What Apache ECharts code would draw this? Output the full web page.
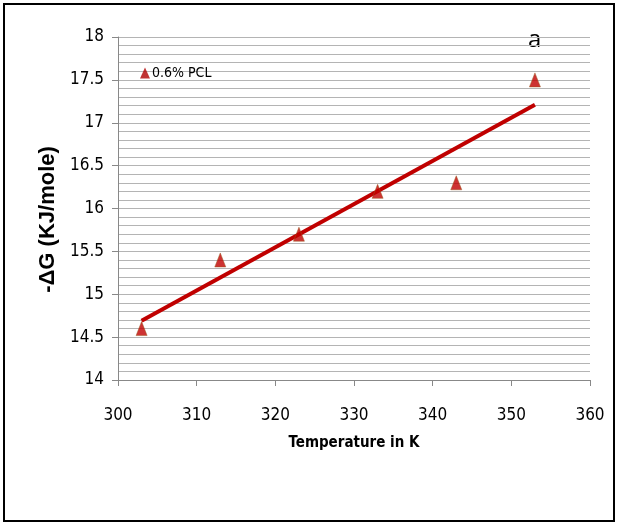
<!DOCTYPE html>
<html><head><meta charset="utf-8">
<script src="https://cdn.jsdelivr.net/npm/echarts@6/dist/echarts.min.js"></script>
<style>html,body{margin:0;padding:0;background:#fff}#c{width:619px;height:525px}</style>
</head><body><div id="c"></div>
<script>
const temperatures = [303, 313, 323, 333, 343, 353];
const deltaG = [14.6, 15.4, 15.7, 16.2, 16.3, 17.5];
const trendX = [303, 353];
const trendY = [14.69, 17.21];
const seriesName = '0.6% PCL';
const panelLabel = 'a';
const xTitle = 'Temperature in K';
const yTitle = '-ΔG (KJ/mole)';

const narrow = '"DejaVu Sans Condensed", "Liberation Sans Narrow", "Roboto Condensed", sans-serif';
const chart = echarts.init(document.getElementById('c'), null, {renderer: 'canvas'});
chart.setOption({
  animation: false,
  backgroundColor: '#fff',
  grid: {left: 118, right: 29, top: 37, bottom: 145},
  legend: {
    data: [{name: seriesName, icon: 'triangle', itemStyle: {color: '#B00000', borderWidth: 0}}],
    left: 135, top: 61, itemWidth: 10, itemHeight: 11, itemGap: 2,
    textStyle: {fontFamily: narrow, fontSize: 14, color: '#000', padding: [0,0,0,-3]}
  },
  xAxis: {
    type: 'value', min: 300, max: 360, interval: 10,
    name: xTitle, nameLocation: 'middle', nameGap: 56,
    nameTextStyle: {fontFamily: narrow, fontWeight: 'bold', fontSize: 15, color: '#000'},
    axisLine: {show: true, lineStyle: {color: '#888', width: 1}},
    axisTick: {show: true, length: 6, lineStyle: {color: '#888'}},
    axisLabel: {fontFamily: narrow, fontSize: 17, color: '#000', margin: 27},
    splitLine: {show: false}
  },
  yAxis: {
    type: 'value', min: 14, max: 18, interval: 0.5,
    name: yTitle, nameLocation: 'middle', nameGap: 58, nameRotate: 90,
    nameTextStyle: {fontFamily: '"Liberation Sans", Arial, sans-serif', fontWeight: 'bold', fontSize: 22, color: '#000', padding: [0, 22, 0, 0]},
    axisLine: {show: true, lineStyle: {color: '#888', width: 1}},
    axisTick: {show: true, length: 6, lineStyle: {color: '#888'}},
    axisLabel: {fontFamily: narrow, fontSize: 17, color: '#000', margin: 14},
    splitLine: {show: true, lineStyle: {color: '#b4b4b4', width: 1}},
    minorTick: {show: false, splitNumber: 5},
    minorSplitLine: {show: true, lineStyle: {color: '#b4b4b4', width: 1}}
  },
  series: [
    {
      name: 'trend', type: 'line', data: trendX.map((x, i) => [x, trendY[i]]),
      showSymbol: false, symbol: 'none', lineStyle: {color: '#C00000', width: 4}, z: 2
    },
    {
      name: seriesName, type: 'scatter', data: temperatures.map((x, i) => [x, deltaG[i]]),
      symbol: 'triangle', symbolSize: [11, 14],
      itemStyle: {color: '#C00000', borderColor: '#9A5A20', borderWidth: 0.6}, z: 3
    }
  ],
  graphic: [
    {type: 'rect', shape: {x: 4, y: 4, width: 610, height: 517},
     style: {fill: 'none', stroke: '#000', lineWidth: 2}, silent: true},
    {type: 'text', left: 528, top: 28,
     style: {text: panelLabel, font: '24px "Open Sans", sans-serif', fill: '#000'}}
  ]
});
</script></body></html>
